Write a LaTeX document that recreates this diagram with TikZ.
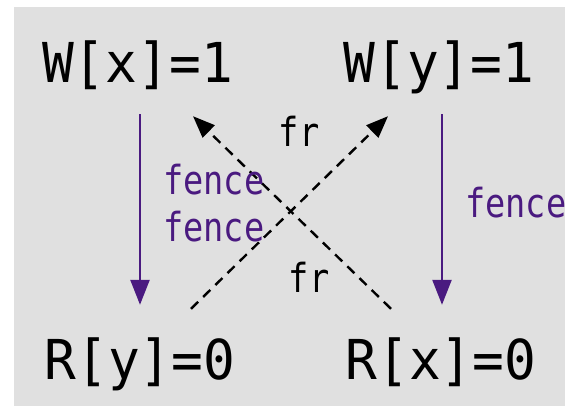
\documentclass[tikz,border=0pt]{standalone}
\usepackage{fontspec}
\newfontfamily\monofont[FakeStretch=0.96]{DejaVu Sans Mono}
\newfontfamily\lblfont[FakeStretch=0.84]{DejaVu Sans Mono}
\usetikzlibrary{arrows.meta}
\definecolor{bg}{HTML}{E0E0E0}
\definecolor{fencecol}{HTML}{4A1A80}
\begin{document}
\begin{tikzpicture}[x=1pt,y=-1pt,
  ev/.style={font=\monofont\fontsize{55}{55}\selectfont, inner sep=0pt, text height=41pt, text depth=10pt, anchor=base},
  lbl/.style={font=\lblfont\fontsize{40}{40}\selectfont, inner sep=0pt, anchor=base},
  fencelbl/.style={lbl, text=fencecol, anchor=base west},
  fencearrow/.style={draw=fencecol, line width=2.4pt, -{Triangle[length=25pt,width=19pt]}, shorten <=21pt, shorten >=33pt},
  frarrow/.style={draw=black, line width=2.4pt, dash pattern=on 10pt off 7pt, -{Triangle[length=22pt,width=17pt]}}]
\useasboundingbox (0,0) rectangle (565,406);
\fill[bg] (14,7) rectangle (565,406);
\node[ev] (wx) at (137.5,83) {W[x]=1};
\node[ev] (wy) at (439,83) {W[y]=1};
\node[ev] (ry) at (140,379) {R[y]=0};
\node[ev] (rx) at (441,379) {R[x]=0};
\draw[fencearrow] (ry.north |- wx.south) -- (ry.north);
\draw[fencearrow] ([xshift=1pt]rx.north |- wy.south) -- ([xshift=1pt]rx.north);
\draw[frarrow] ([xshift=51pt,yshift=29pt]ry.north) -- ([xshift=-51pt,yshift=-23pt]wy.south);
\draw[frarrow] ([xshift=-50pt,yshift=29pt]rx.north) -- ([xshift=55.5pt,yshift=-23pt]wx.south);
\node[fencelbl] (f1) at (163,195) {fence};
\node[fencelbl] (f2) at (163,241) {fence};
\node[fencelbl] (f3) at (465,218) {fence};
\node[lbl] (fr1) at (299,147) {fr};
\node[lbl] (fr2) at (309,292) {fr};
\end{tikzpicture}
\end{document}
